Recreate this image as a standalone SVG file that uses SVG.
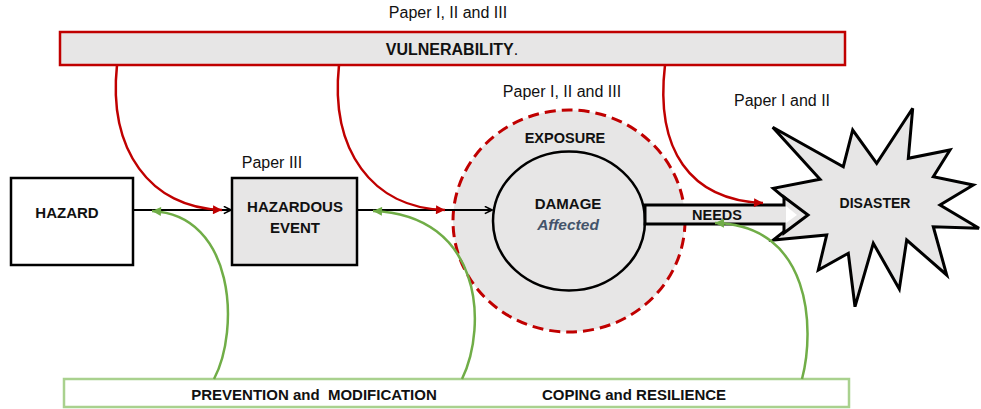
<svg xmlns="http://www.w3.org/2000/svg" width="981" height="409" viewBox="0 0 981 409">
  <style>
    .lbl { font-family: "Liberation Sans", Arial, sans-serif; fill: #111; }
    .b { font-weight: bold; }
    .paper { font-size: 16px; }
    .box { stroke: #000; stroke-width: 2.5; }
    .grey { fill: #e7e6e6; }
    .red { fill: none; stroke: #c00000; stroke-width: 2.5; }
    .green { fill: none; stroke: #70ad47; stroke-width: 2.5; }
    .flow { fill: none; stroke: #000; stroke-width: 2; }
  </style>
  <defs>
    <marker id="chev" viewBox="0 0 10 10" refX="9" refY="5" markerWidth="9" markerHeight="9" markerUnits="userSpaceOnUse" orient="auto">
      <path d="M1,1 L9,5 L1,9" fill="none" stroke="#000" stroke-width="1.8"/>
    </marker>
    <marker id="redHead" viewBox="0 0 10 10" refX="10" refY="5" markerWidth="10" markerHeight="9" markerUnits="userSpaceOnUse" orient="auto">
      <path d="M0,0 L10,5 L0,10 Z" fill="#c00000"/>
    </marker>
    <marker id="greenHead" viewBox="0 0 10 10" refX="10" refY="5" markerWidth="10" markerHeight="9" markerUnits="userSpaceOnUse" orient="auto">
      <path d="M0,0 L10,5 L0,10 Z" fill="#70ad47"/>
    </marker>
  </defs>

  <!-- top band -->
  <g id="vulnerability">
    <rect x="60" y="32" width="785" height="33" class="grey" stroke="#c00000" stroke-width="2.5"/>
    <text x="452" y="55" class="lbl b" font-size="16" text-anchor="middle">VULNERABILITY<tspan font-weight="normal">.</tspan></text>
  </g>

  <!-- bottom band -->
  <g id="mitigation">
    <rect x="64" y="379" width="785" height="28" fill="#fff" stroke="#a9d18e" stroke-width="2.5"/>
    <text x="314" y="400" class="lbl b" font-size="15" text-anchor="middle" xml:space="preserve">PREVENTION and  MODIFICATION</text>
    <text x="634" y="400" class="lbl b" font-size="15" text-anchor="middle">COPING and RESILIENCE</text>
  </g>

  <!-- paper references -->
  <g id="papers" class="lbl paper">
    <text x="448" y="18" text-anchor="middle">Paper I, II and III</text>
    <text x="272" y="168" text-anchor="middle">Paper III</text>
    <text x="562" y="97" text-anchor="middle">Paper I, II and III</text>
    <text x="782" y="106" text-anchor="middle">Paper I and II</text>
  </g>

  <g id="hazard">
    <rect x="11" y="178" width="122" height="87" fill="#fff" class="box"/>
    <text x="67" y="218" class="lbl b" font-size="15" text-anchor="middle">HAZARD</text>
  </g>

  <g id="hazardous-event">
    <rect x="232" y="178" width="125" height="87" class="grey box"/>
    <text x="295" y="212" class="lbl b" font-size="15" text-anchor="middle">HAZARDOUS</text>
    <text x="295" y="233" class="lbl b" font-size="15" text-anchor="middle">EVENT</text>
  </g>

  <g id="exposure">
    <ellipse cx="569" cy="221" rx="116" ry="111" class="grey" stroke="#c00000" stroke-width="3" stroke-dasharray="11 6"/>
    <text x="565" y="143" class="lbl b" font-size="14.5" text-anchor="middle">EXPOSURE</text>
  </g>

  <g id="damage">
    <ellipse cx="569" cy="221" rx="76" ry="69.5" class="grey box"/>
    <text x="568" y="209" class="lbl b" font-size="15" text-anchor="middle">DAMAGE</text>
    <text x="568" y="230" class="lbl b" font-size="15.5" font-style="italic" text-anchor="middle" style="fill:#44546a">Affected</text>
  </g>

  <g id="disaster">
    <polygon class="grey" stroke="#000" stroke-width="3" stroke-linejoin="miter"
      points="772.7,127.3 843.3,166.7 852.7,130 876.7,163.3 912.7,108.3 908.3,158.3 950,150 933.3,176.7 973.3,185 940,205 979,228.3 933.3,226.7 946.7,275 906.7,240 899.3,289 873.3,243.3 855,306.7 848.3,253.3 818.3,270 826.7,235 773.3,240 805,215 773.3,188.3 820,179.3"/>
    <text x="875" y="208" class="lbl b" font-size="14" text-anchor="middle">DISASTER</text>
  </g>

  <g id="needs">
    <path d="M645,205 H784 V197 L808,215 L784,233 V224 H645 Z" class="grey" stroke="#000" stroke-width="3" stroke-linejoin="miter"/>
    <path d="M786,206 L797,215 L786,223 Z" fill="#fff"/>
    <text x="717" y="219.5" class="lbl b" font-size="14.5" text-anchor="middle">NEEDS</text>
  </g>

  <g id="connectors">
    <!-- main chain -->
    <path d="M133,210 H231" class="flow" marker-end="url(#chev)"/>
    <path d="M357,210 H492" class="flow" marker-end="url(#chev)"/>
    <!-- vulnerability influences -->
    <path d="M117,65 C108,150 150,208 222,210" class="red" marker-end="url(#redHead)"/>
    <path d="M339,65 C330,150 372,208 445,210" class="red" marker-end="url(#redHead)"/>
    <path d="M665,65 C655,150 690,200 763,203" class="red" marker-end="url(#redHead)"/>
    <!-- mitigating influences -->
    <path d="M214,379 C240,330 235,215 152,211" class="green" marker-end="url(#greenHead)"/>
    <path d="M462,379 C488,325 482,215 373,211" class="green" marker-end="url(#greenHead)"/>
    <path d="M802,379 C815,330 812,225 715,223" class="green" marker-end="url(#greenHead)"/>
  </g>
</svg>
